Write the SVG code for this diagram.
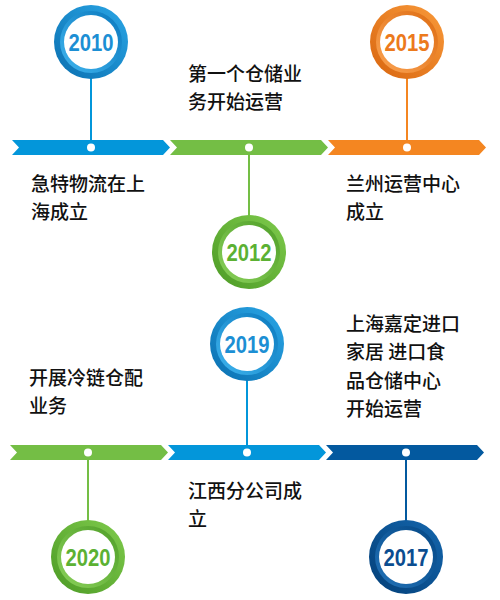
<svg xmlns="http://www.w3.org/2000/svg" width="500" height="600" viewBox="0 0 500 600">
<defs>
<linearGradient id="gBlueO" x1="0" y1="1" x2="1" y2="0"><stop offset="0" stop-color="#0a6fb0"/><stop offset="1" stop-color="#2aa6e6"/></linearGradient>
<linearGradient id="gBlueI" x1="0" y1="1" x2="1" y2="0"><stop offset="0" stop-color="#3fb4ee"/><stop offset="1" stop-color="#0a78bd"/></linearGradient>
<linearGradient id="gGreenO" x1="0" y1="1" x2="1" y2="0"><stop offset="0" stop-color="#4c9a25"/><stop offset="1" stop-color="#7fcb4c"/></linearGradient>
<linearGradient id="gGreenI" x1="0" y1="1" x2="1" y2="0"><stop offset="0" stop-color="#8ad15a"/><stop offset="1" stop-color="#4f9e28"/></linearGradient>
<linearGradient id="gOrangeO" x1="0" y1="1" x2="1" y2="0"><stop offset="0" stop-color="#d8650f"/><stop offset="1" stop-color="#f99a3a"/></linearGradient>
<linearGradient id="gOrangeI" x1="0" y1="1" x2="1" y2="0"><stop offset="0" stop-color="#fba352"/><stop offset="1" stop-color="#dd6c12"/></linearGradient>
<linearGradient id="gDarkO" x1="0" y1="1" x2="1" y2="0"><stop offset="0" stop-color="#033f78"/><stop offset="1" stop-color="#1466ad"/></linearGradient>
<linearGradient id="gDarkI" x1="0" y1="1" x2="1" y2="0"><stop offset="0" stop-color="#2272b8"/><stop offset="1" stop-color="#044784"/></linearGradient>
<polygon id="seg" points="0,0 151,0 158,7.5 151,15 0,15 7,7.5"/>
</defs>
<style>
.lbl{font-family:"Noto Sans CJK SC","Noto Sans",sans-serif;font-size:19px;fill:#111;font-weight:500}
.yr{font-family:"Liberation Sans",Arial,sans-serif;font-size:24px;font-weight:bold;text-anchor:middle}
.dot{fill:#fff}
.ln{stroke-width:2}
</style>
<g id="bars">
<use href="#seg" x="12" y="140" fill="#0396da"/>
<use href="#seg" x="170" y="140" fill="#74be45"/>
<use href="#seg" x="328" y="140" fill="#f48621"/>
<use href="#seg" x="10" y="445" fill="#74be45"/>
<use href="#seg" x="168" y="445" fill="#0396da"/>
<use href="#seg" x="326" y="445" fill="#03599f"/>
</g>
<g id="connectors">
<line class="ln" x1="91" y1="78" x2="91" y2="147" stroke="#0396da"/>
<line class="ln" x1="249" y1="147" x2="249" y2="216" stroke="#74be45"/>
<line class="ln" x1="407" y1="78" x2="407" y2="147" stroke="#f48621"/>
<line class="ln" x1="88" y1="452" x2="88" y2="521" stroke="#74be45"/>
<line class="ln" x1="247" y1="380" x2="247" y2="452" stroke="#0396da"/>
<line class="ln" x1="406" y1="452" x2="406" y2="521" stroke="#03599f"/>
<circle class="dot" cx="91" cy="147.5" r="4"/>
<circle class="dot" cx="249" cy="147.5" r="4"/>
<circle class="dot" cx="407" cy="147.5" r="4"/>
<circle class="dot" cx="88" cy="452.5" r="4"/>
<circle class="dot" cx="247" cy="452.5" r="4"/>
<circle class="dot" cx="406" cy="452.5" r="4"/>
</g>
<g id="n2010">
<circle cx="91" cy="42" r="37" fill="url(#gBlueO)"/>
<circle cx="91" cy="42" r="31" fill="url(#gBlueI)"/>
<circle cx="91" cy="42" r="27" fill="#fff"/>
<text class="yr" x="91" y="50.5" fill="#1c8fd4" textLength="45" lengthAdjust="spacingAndGlyphs">2010</text>
</g>
<g id="n2012">
<circle cx="249" cy="252" r="37" fill="url(#gGreenO)"/>
<circle cx="249" cy="252" r="31" fill="url(#gGreenI)"/>
<circle cx="249" cy="252" r="27" fill="#fff"/>
<text class="yr" x="249" y="260.5" fill="#5cb133" textLength="45" lengthAdjust="spacingAndGlyphs">2012</text>
</g>
<g id="n2015">
<circle cx="407" cy="42" r="37" fill="url(#gOrangeO)"/>
<circle cx="407" cy="42" r="31" fill="url(#gOrangeI)"/>
<circle cx="407" cy="42" r="27" fill="#fff"/>
<text class="yr" x="407" y="50.5" fill="#ec7a1c" textLength="45" lengthAdjust="spacingAndGlyphs">2015</text>
</g>
<g id="n2019">
<circle cx="247" cy="344" r="37" fill="url(#gBlueO)"/>
<circle cx="247" cy="344" r="31" fill="url(#gBlueI)"/>
<circle cx="247" cy="344" r="27" fill="#fff"/>
<text class="yr" x="247" y="352.5" fill="#1c8fd4" textLength="45" lengthAdjust="spacingAndGlyphs">2019</text>
</g>
<g id="n2020">
<circle cx="88" cy="557" r="37" fill="url(#gGreenO)"/>
<circle cx="88" cy="557" r="31" fill="url(#gGreenI)"/>
<circle cx="88" cy="557" r="27" fill="#fff"/>
<text class="yr" x="88" y="565.5" fill="#5cb133" textLength="45" lengthAdjust="spacingAndGlyphs">2020</text>
</g>
<g id="n2017">
<circle cx="406" cy="557" r="37" fill="url(#gDarkO)"/>
<circle cx="406" cy="557" r="31" fill="url(#gDarkI)"/>
<circle cx="406" cy="557" r="27" fill="#fff"/>
<text class="yr" x="406" y="565.5" fill="#0b4d90" textLength="45" lengthAdjust="spacingAndGlyphs">2017</text>
</g>
<g id="labels">
<text class="lbl" x="31" y="191">急特物流在上</text>
<text class="lbl" x="31" y="219">海成立</text>
<text class="lbl" x="188" y="81">第一个仓储业</text>
<text class="lbl" x="188" y="109">务开始运营</text>
<text class="lbl" x="346" y="191">兰州运营中心</text>
<text class="lbl" x="346" y="219">成立</text>
<text class="lbl" x="29" y="385">开展冷链仓配</text>
<text class="lbl" x="29" y="413">业务</text>
<text class="lbl" x="188" y="498">江西分公司成</text>
<text class="lbl" x="188" y="526">立</text>
<text class="lbl" x="346" y="331">上海嘉定进口</text>
<text class="lbl" x="346" y="359">家居 进口食</text>
<text class="lbl" x="346" y="388">品仓储中心</text>
<text class="lbl" x="346" y="416">开始运营</text>
</g>
</svg>
